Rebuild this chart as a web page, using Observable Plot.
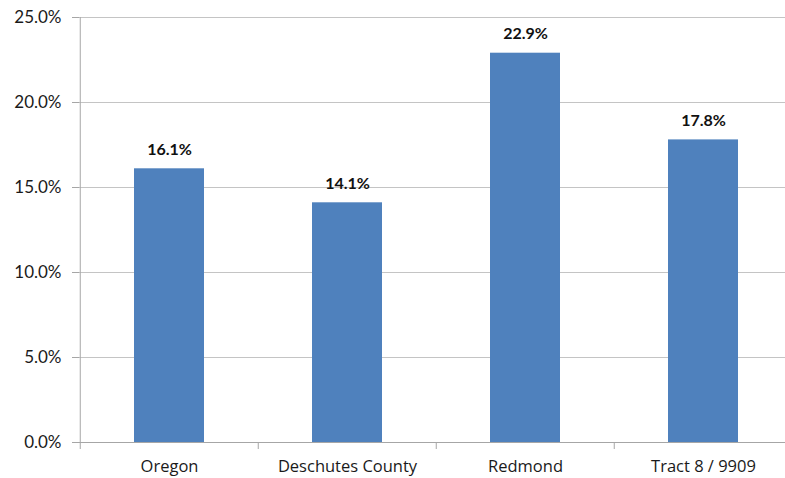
<!DOCTYPE html>
<html>
<head>
<meta charset="utf-8">
<script src="https://cdn.jsdelivr.net/npm/d3@7"></script>
<script src="https://cdn.jsdelivr.net/npm/@observablehq/plot@0.6"></script>
<style>
  html, body { margin: 0; padding: 0; background: #fff; }
  #chart svg { display: block; }
</style>
</head>
<body>
<div id="chart"></div>
<script>
// Share of population by area (percent)
const areas = ["Oregon", "Deschutes County", "Redmond", "Tract 8 / 9909"];
const shares = [16.1, 14.1, 22.9, 17.8];
const yTicks = [0, 5, 10, 15, 20, 25];

const rows = areas.map((area, i) => ({area, share: shares[i]}));

const W = 785, H = 478;
const left = 79, right = 793;           // band range runs past the right edge
const band = (right - left) / areas.length;
const font = "Lato, 'Open Sans', sans-serif";

const chart = Plot.plot({
  width: W,
  height: H,
  marginTop: 17,
  marginBottom: 36,
  marginLeft: left,
  marginRight: 0,
  style: {fontFamily: font, fontSize: "15px", color: "#1a1a1a", background: "#fff"},
  x: {domain: areas, range: [left, right], paddingInner: 0.605, paddingOuter: 0.3025, align: 0.5, label: null},
  y: {domain: [0, 25], ticks: yTicks, label: null},
  marks: [
    // horizontal gridlines
    Plot.ruleY(yTicks.slice(1), {stroke: "#c4c4c4", strokeWidth: 1}),
    // bars
    Plot.barY(rows, {x: "area", y: "share", fill: "#4f81bd"}),
    // value labels above each bar
    Plot.text(rows, {
      x: "area", y: "share",
      text: d => d.share.toFixed(1) + "%",
      lineAnchor: "bottom", dy: -14,
      fontWeight: "bold", fontSize: 16, fill: "#111"
    }),
    // baseline and left axis line
    Plot.ruleY([0], {stroke: "#a6a6a6"}),
    Plot.ruleX([0], {x: () => areas[0], dx: -band / 2, stroke: "#a6a6a6"}),
    // y axis
    Plot.axisY({
      ticks: yTicks, tickSize: 7, tickPadding: 11, stroke: "#a6a6a6",
      tickFormat: d => d.toFixed(1) + "%", fontSize: 17, fill: "#1a1a1a", label: null
    }),
    // category separator ticks on the x axis
    Plot.axisX({tickSize: 7, tickFormat: () => "", dx: -band / 2, stroke: "#a6a6a6", label: null}),
    // category labels
    Plot.axisX({
      tickSize: 0, tickPadding: 18, fontSize: 16.5, fill: "#1a1a1a", label: null,
      fontFamily: "'Open Sans', Lato, sans-serif"
    })
  ]
});

document.getElementById("chart").appendChild(chart);
</script>
</body>
</html>
